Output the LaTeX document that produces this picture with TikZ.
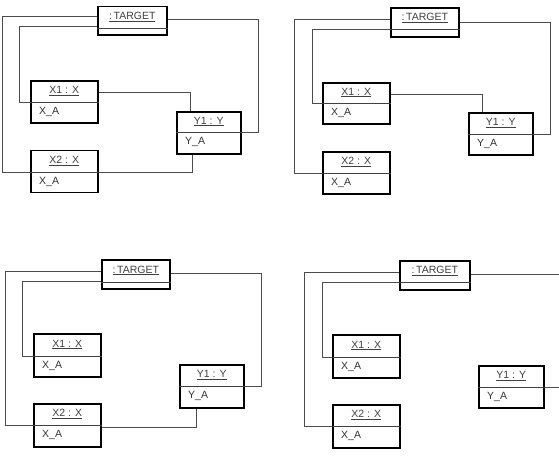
\documentclass[tikz,border=0pt]{standalone}
\usepackage{fontspec}
\setmainfont{Liberation Sans}
\usetikzlibrary{calc}
\tikzset{
  obj/.style={draw=black, line width=1.5pt, inner sep=0pt, anchor=north west, fill=white},
  divl/.style={draw=black!75, line width=0.6pt},
  ttl/.style={inner sep=0pt, text=black!75, font=\fontsize{10.5}{12}\selectfont},
  attrtxt/.style={inner sep=0pt, anchor=west, text=black!80, font=\fontsize{10.5}{12}\selectfont},
  conn/.style={draw=black!70, line width=0.7pt}
}
\newcommand\objbox[8]{%
  \node[obj, minimum width=#4pt, minimum height=#5pt] (#1) at (#2,#3) {};
  \draw[divl] ($(#1.north west)+(0,#6)$) -- ($(#1.north east)+(0,#6)$);
  \node[ttl] (#1t) at ($(#1.north)+(0,#6/2)$) {\underline{#7}};
  \node[attrtxt] (#1a) at ($(#1.north west)+(9,#6+10)$) {#8};
}
\begin{document}
\begin{tikzpicture}[x=1pt,y=-1pt]
\useasboundingbox (0,0) rectangle (559,459);
% ---------- panel 1
\objbox{ta}{97}{5.7}{69}{28.5}{22.5}{:\,TARGET}{}
\objbox{xa}{30}{80}{67}{42}{22}{X1 : X}{X\_A}
\objbox{ya}{176}{111}{64}{42}{21}{Y1 : Y}{Y\_A}
\objbox{xb}{30}{149.5}{67}{42}{22.5}{X2 : X}{X\_A}
\draw[conn] ($(ta.north west)+(0,11)$) -| ($(xb.north west)+(-28,22.5)$) -- ($(xb.north west)+(0,22.5)$);
\draw[conn] ($(ta.north west)+(0,21)$) -| ($(xa.north west)+(-11,22)$) -- ($(xa.north west)+(0,22)$);
\draw[conn] ($(ta.north east)+(0,14)$) -| ($(ya.north east)+(17,21)$) -- ($(ya.north east)+(0,21)$);
\draw[conn] ($(xa.north east)+(0,12)$) -| ($(ya.north west)+(14,0)$);
\draw[conn] ($(xb.north east)+(0,22.5)$) -| ($(ya.south west)+(16,0)$);
% ---------- panel 2
\objbox{tb}{390}{7}{68}{29}{22}{:\,TARGET}{}
\objbox{xc}{322}{82}{67}{41}{21}{X1 : X}{X\_A}
\objbox{yb}{468}{112}{64}{42}{22}{Y1 : Y}{Y\_A}
\objbox{xd}{322}{151}{67}{42}{22}{X2 : X}{X\_A}
\draw[conn] ($(tb.north west)+(0,12)$) -| ($(xd.north west)+(-28,22)$) -- ($(xd.north west)+(0,22)$);
\draw[conn] ($(tb.north west)+(0,22)$) -| ($(xc.north west)+(-10,21)$) -- ($(xc.north west)+(0,21)$);
\draw[conn] ($(tb.north east)+(0,15)$) -| ($(yb.north east)+(17,22)$) -- ($(yb.north east)+(0,22)$);
\draw[conn] ($(xc.north east)+(0,12)$) -| ($(yb.north west)+(14,0)$);
% ---------- panel 3
\objbox{tc}{101}{259}{68}{29}{23}{:\,TARGET}{}
\objbox{xe}{33}{333}{67}{43}{23}{X1 : X}{X\_A}
\objbox{yc}{179}{364}{64}{43}{22}{Y1 : Y}{Y\_A}
\objbox{xf}{33}{403}{67}{43}{22}{X2 : X}{X\_A}
\draw[conn] ($(tc.north west)+(0,12)$) -| ($(xf.north west)+(-28,22)$) -- ($(xf.north west)+(0,22)$);
\draw[conn] ($(tc.north west)+(0,22)$) -| ($(xe.north west)+(-11,23)$) -- ($(xe.north west)+(0,23)$);
\draw[conn] ($(tc.north east)+(0,14)$) -| ($(yc.north east)+(17,22)$) -- ($(yc.north east)+(0,22)$);
\draw[conn] ($(xf.north east)+(0,24)$) -| ($(yc.south west)+(17,0)$);
% ---------- panel 4
\objbox{td}{399}{260}{70}{29}{22}{:\,TARGET}{}
\objbox{xg}{332}{334}{67}{43}{23}{X1 : X}{X\_A}
\objbox{yd}{478}{365}{65}{42}{22}{Y1 : Y}{Y\_A}
\objbox{xh}{332}{404}{67}{43}{22}{X2 : X}{X\_A}
\draw[conn] ($(td.north west)+(0,12)$) -| ($(xh.north west)+(-28,22)$) -- ($(xh.north west)+(0,22)$);
\draw[conn] ($(td.north west)+(0,22)$) -| ($(xg.north west)+(-10,23)$) -- ($(xg.north west)+(0,23)$);
\draw[conn] ($(td.north east)+(0,14)$) -| ($(yd.north east)+(15,22)$) -- ($(yd.north east)+(0,22)$);
\end{tikzpicture}
\end{document}
